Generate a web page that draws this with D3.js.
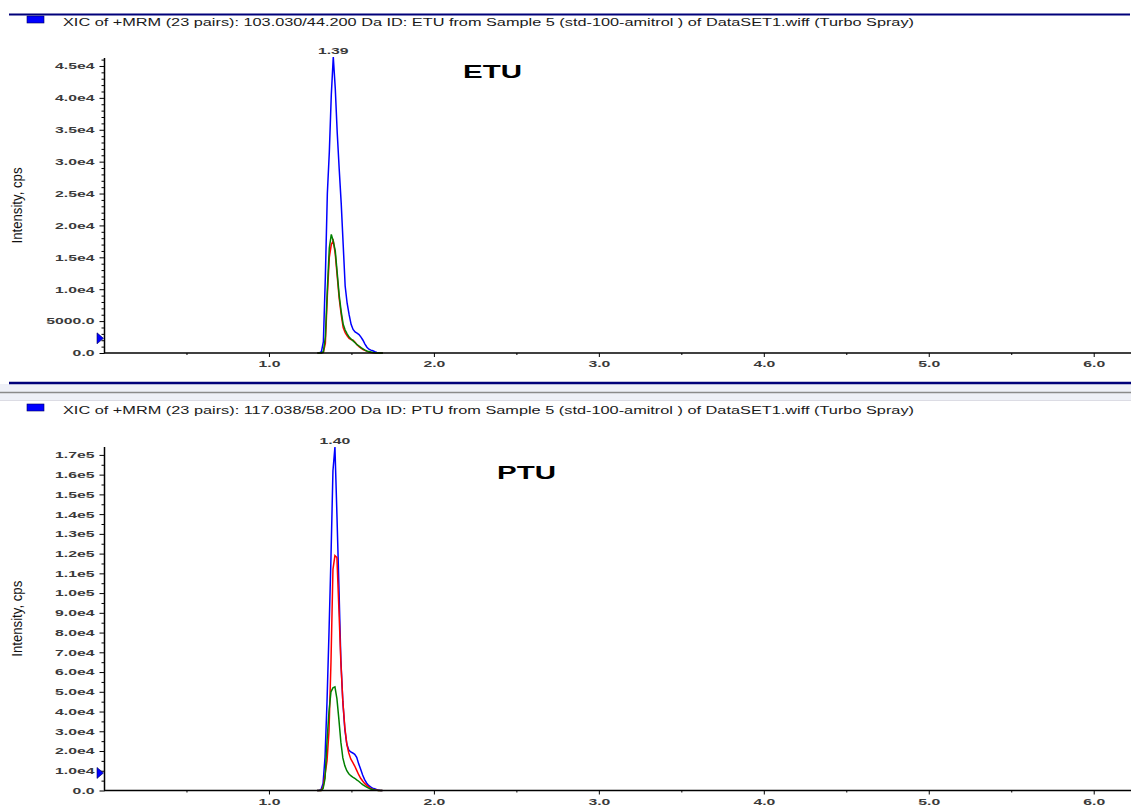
<!DOCTYPE html>
<html>
<head>
<meta charset="utf-8">
<script src="https://cdn.jsdelivr.net/npm/d3@7"></script>
<style>
  html, body { margin: 0; padding: 0; background: #fff; }
  svg { display: block; }
  text { font-family: "Liberation Sans", Arial, sans-serif; }
</style>
</head>
<body>
<svg id="chart" width="1131" height="810"></svg>
<script>
// ---- ETU trace (103.030/44.200 Da) ----
const etuTitle = "XIC of +MRM (23 pairs): 103.030/44.200 Da ID: ETU from Sample 5 (std-100-amitrol ) of DataSET1.wiff (Turbo Spray)";
const etuName = "ETU";
const etuApex = 1.39;
const etuTime = [1.294,1.306,1.318,1.330,1.342,1.354,1.366,1.378,1.390,1.402,1.414,1.426,1.438,1.450,1.462,1.474,1.486,1.498,1.510,1.522,1.534,1.546,1.558,1.570,1.582,1.594,1.606,1.618,1.630,1.642,1.654,1.666,1.678,1.690];
const etuBlue  = [0,0,200,1800,12000,25000,31500,40500,46400,41500,34500,28800,23500,17000,10500,7800,6000,4500,3700,3300,3100,2900,2500,2000,1400,900,600,450,350,200,80,0,0,0];
const etuRed   = [0,0,0,100,1500,9000,15000,17000,17600,15500,12000,8500,6000,4000,3200,2700,2300,2100,2000,1700,1300,1000,750,550,400,250,150,80,30,0,0,0,0,0];
const etuGreen = [0,0,0,200,2500,10000,16500,18600,17500,16000,12500,9000,6500,4500,3600,3000,2500,2200,1900,1600,1300,1100,850,650,450,320,220,150,80,40,0,0,0,0];
const etuYMax = 46250;
const etuYTicks = [0,5000,10000,15000,20000,25000,30000,35000,40000,45000];
const etuYTickLabels = ["0.0","5000.0","1.0e4","1.5e4","2.0e4","2.5e4","3.0e4","3.5e4","4.0e4","4.5e4"];
const etuYMinorStep = 1000;
const etuMarker = 2300;

// ---- PTU trace (117.038/58.200 Da) ----
const ptuTitle = "XIC of +MRM (23 pairs): 117.038/58.200 Da ID: PTU from Sample 5 (std-100-amitrol ) of DataSET1.wiff (Turbo Spray)";
const ptuName = "PTU";
const ptuApex = 1.40;
const ptuTime = [1.292,1.304,1.316,1.328,1.340,1.352,1.364,1.376,1.388,1.400,1.412,1.424,1.436,1.448,1.460,1.472,1.484,1.496,1.508,1.520,1.532,1.544,1.556,1.568,1.580,1.592,1.604,1.616,1.628,1.640,1.652,1.664,1.676,1.688];
const ptuBlue  = [0,0,500,3500,17000,45000,80000,118000,162000,174000,140000,104000,66000,45000,31000,23500,20500,19500,19000,18300,16800,13500,10800,7800,5500,3800,2600,1800,1200,900,500,200,0,0];
const ptuRed   = [0,0,0,1500,8000,15000,30000,65000,112000,119000,118000,92000,65000,45000,32000,23500,19000,16000,14200,12400,10200,8000,6200,4800,3600,2600,1800,1100,700,400,200,0,0,0];
const ptuGreen = [0,0,0,1000,6000,25000,40000,50000,52000,52500,46500,36000,24500,16500,12500,10000,8500,7500,6800,6200,5400,4700,3800,3000,2300,1700,1200,800,500,250,100,0,0,0];
const ptuYMax = 174000;
const ptuYTicks = [0,10000,20000,30000,40000,50000,60000,70000,80000,90000,100000,110000,120000,130000,140000,150000,160000,170000];
const ptuYTickLabels = ["0.0","1.0e4","2.0e4","3.0e4","4.0e4","5.0e4","6.0e4","7.0e4","8.0e4","9.0e4","1.0e5","1.1e5","1.2e5","1.3e5","1.4e5","1.5e5","1.6e5","1.7e5"];
const ptuYMinorStep = 5000;
const ptuMarker = 8900;

// ---- shared time axis (min) ----
const xMax = 6.22;
const xTicks = [1,2,3,4,5,6];
const xTickLabels = ["1.0","2.0","3.0","4.0","5.0","6.0"];
const xMinorTicks = [0.5,1.5,2.5,3.5,4.5,5.5];
const yTitle = "Intensity, cps";

const traceColors = { blue: "#0000ff", red: "#ff0000", green: "#008000" };
const W = 1131, H = 810;
const svg = d3.select("#chart");

// widen text horizontally to the given factor of its natural length
function widen(sel, k) {
  sel.each(function () {
    const len = this.getComputedTextLength();
    d3.select(this).attr("textLength", len * k).attr("lengthAdjust", "spacingAndGlyphs");
  });
}

const panels = [
  { title: etuTitle, name: etuName, apex: etuApex, time: etuTime, blue: etuBlue, red: etuRed, green: etuGreen,
    yMax: etuYMax, yTicks: etuYTicks, yLabels: etuYTickLabels, yMinorStep: etuYMinorStep, marker: etuMarker,
    headerY: 14, top: 58, bottom: 353, nameX: 463, nameY: 78 },
  { title: ptuTitle, name: ptuName, apex: ptuApex, time: ptuTime, blue: ptuBlue, red: ptuRed, green: ptuGreen,
    yMax: ptuYMax, yTicks: ptuYTicks, yLabels: ptuYTickLabels, yMinorStep: ptuYMinorStep, marker: ptuMarker,
    headerY: 402, top: 447, bottom: 790.5, nameX: 497, nameY: 479 }
];

const x = d3.scaleLinear().domain([0, xMax]).range([104, 1130]);

// separator between the two panes
svg.append("rect").attr("x", 0).attr("y", 384).attr("width", W).attr("height", 17).attr("fill", "#eef0f7");
svg.append("line").attr("x1", 9).attr("x2", W).attr("y1", 383).attr("y2", 383)
  .attr("stroke", "#00007a").attr("stroke-width", 2.5);
svg.append("line").attr("x1", 0).attr("x2", W).attr("y1", 392.5).attr("y2", 392.5)
  .attr("stroke", "#8a8a8a").attr("stroke-width", 1.5);
svg.append("line").attr("x1", 0).attr("x2", W).attr("y1", 400.5).attr("y2", 400.5)
  .attr("stroke", "#dcdce4").attr("stroke-width", 1);
// top border of the first pane
svg.append("line").attr("x1", 9).attr("x2", 1130).attr("y1", 14.5).attr("y2", 14.5)
  .attr("stroke", "#00007a").attr("stroke-width", 2);

panels.forEach(p => {
  const g = svg.append("g");
  const y = d3.scaleLinear().domain([0, p.yMax]).range([p.bottom, p.top]);

  // header: colour key + description
  g.append("rect").attr("x", 27).attr("y", p.headerY + 2).attr("width", 17).attr("height", 7)
    .attr("fill", "#0000ff").attr("stroke", "#000060").attr("stroke-width", 0.6);
  g.append("text").attr("x", 63).attr("y", p.headerY + 12)
    .attr("font-size", 10).attr("fill", "#1a1a1a").text(p.title)
    .attr("textLength", 851).attr("lengthAdjust", "spacingAndGlyphs");

  // traces
  const line = d3.line().x((d, i) => x(p.time[i])).y(d => y(d));
  ["blue", "red", "green"].forEach(c => {
    g.append("path").datum(p[c]).attr("d", line)
      .attr("fill", "none").attr("stroke", traceColors[c]).attr("stroke-width", 1.5)
      .attr("stroke-linejoin", "miter");
  });

  // apex label
  const ai = p.time.indexOf(p.apex);
  const apexVal = ai >= 0 ? p.blue[ai] : d3.max(p.blue);
  g.append("text").attr("x", x(p.apex)).attr("y", y(apexVal) - 3)
    .attr("text-anchor", "middle").attr("font-size", 9).attr("font-weight", "bold").attr("fill", "#3a3a3a")
    .text(p.apex.toFixed(2)).call(widen, 1.75);

  // compound name
  g.append("text").attr("x", p.nameX).attr("y", p.nameY)
    .attr("font-size", 19).attr("font-weight", "bold").attr("fill", "#000")
    .text(p.name).call(widen, 1.55);

  // y axis: minor ticks, then major ticks with labels
  const minor = d3.range(0, p.yMax + 1, p.yMinorStep).filter(v => !p.yTicks.includes(v));
  g.append("g").attr("transform", `translate(${x(0) + 0.5},0)`)
    .call(d3.axisLeft(y).tickValues(minor).tickSize(3).tickFormat(""))
    .call(a => a.select(".domain").remove())
    .selectAll("line").attr("stroke", "#000");
  const ya = g.append("g").attr("transform", `translate(${x(0) + 0.5},0)`)
    .call(d3.axisLeft(y).tickValues(p.yTicks).tickSize(5).tickPadding(5)
      .tickFormat((d, i) => p.yLabels[i]));
  ya.select(".domain").attr("stroke", "#000").attr("stroke-width", 1.5)
    .attr("d", `M0,${p.top}V${p.bottom}`);
  ya.selectAll("line").attr("stroke", "#000");
  ya.selectAll("text").attr("font-size", 9).attr("font-weight", "bold").attr("fill", "#3a3a3a")
    .attr("font-family", "Liberation Sans, Arial, sans-serif").call(widen, 1.75);

  // x axis
  g.append("g").attr("transform", `translate(0,${p.bottom})`)
    .call(d3.axisBottom(x).tickValues(xMinorTicks).tickSize(2).tickFormat(""))
    .call(a => a.select(".domain").remove())
    .selectAll("line").attr("stroke", "#000");
  const xa = g.append("g").attr("transform", `translate(0,${p.bottom})`)
    .call(d3.axisBottom(x).tickValues(xTicks).tickSize(4).tickPadding(4)
      .tickFormat((d, i) => xTickLabels[i]));
  xa.select(".domain").attr("stroke", "#000").attr("stroke-width", 1.5)
    .attr("d", `M${x(0)},0H${W}`);
  xa.selectAll("line").attr("stroke", "#000");
  xa.selectAll("text").attr("font-size", 9).attr("font-weight", "bold").attr("fill", "#3a3a3a")
    .attr("font-family", "Liberation Sans, Arial, sans-serif").call(widen, 1.75);

  // threshold marker on the intensity axis
  const my = y(p.marker);
  g.append("path").attr("d", `M${x(0) - 7},${my - 5.5}L${x(0) - 0.5},${my}L${x(0) - 7},${my + 5.5}Z`)
    .attr("fill", "#0000ff").attr("stroke", "#000050").attr("stroke-width", 0.6);

  // intensity axis title
  const cy = (p.top + p.bottom) / 2;
  g.append("text").attr("transform", `translate(21.5,${cy}) rotate(-90)`)
    .attr("text-anchor", "middle").attr("font-size", 14).attr("fill", "#111")
    .text(yTitle).attr("textLength", 76).attr("lengthAdjust", "spacingAndGlyphs");
});
</script>
</body>
</html>
